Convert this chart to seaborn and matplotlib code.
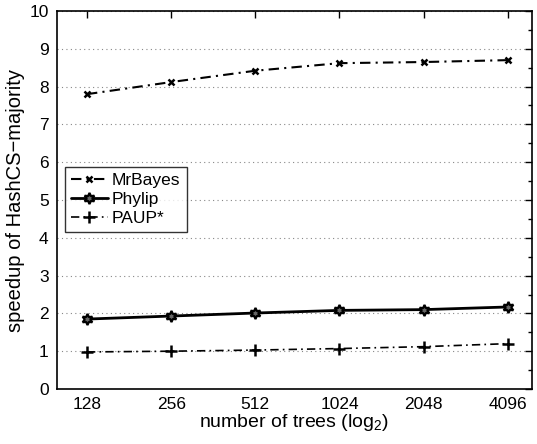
import matplotlib
matplotlib.use("Agg")
import matplotlib.pyplot as plt
import seaborn as sns
import pandas as pd
from matplotlib.ticker import FixedLocator, MultipleLocator, NullLocator

trees = [128, 256, 512, 1024, 2048, 4096]
mrbayes = [7.80, 8.12, 8.42, 8.62, 8.65, 8.70]
phylip = [1.85, 1.93, 2.01, 2.08, 2.10, 2.17]
paup = [0.98, 1.00, 1.03, 1.07, 1.12, 1.20]
series_names = ["MrBayes", "Phylip", "PAUP*"]
tick_labels = ["128", "256", "512", "1024", "2048", "4096"]

sns.set_theme(style="white")
plt.rcParams['font.family'] = ['Liberation Sans', 'DejaVu Sans']
plt.rcParams['mathtext.fontset'] = 'custom'
plt.rcParams['mathtext.rm'] = 'Liberation Sans'
plt.rcParams['mathtext.it'] = 'Liberation Sans'
plt.rcParams['text.color'] = 'black'
plt.rcParams['axes.labelcolor'] = 'black'

fig = plt.figure(figsize=(5.37, 4.44), dpi=100)
ax = fig.add_axes([57/537, 55/444, 475/537, 378/444])

dashdot = (0, (5, 2.5, 1, 2.5))
styles = {
    "MrBayes": dict(linestyle=dashdot, marker="x", markersize=5, linewidth=1.5,
                    markeredgewidth=1.8, markeredgecolor="black", color="black"),
    "Phylip": dict(linestyle="-", marker=(6, 1, 0), markersize=8, linewidth=2,
                   markeredgewidth=1.6, markerfacecolor="#666666", markeredgecolor="black", color="black"),
    "PAUP*": dict(linestyle=dashdot, marker="+", markersize=8, linewidth=1.2,
                  markeredgewidth=1.8, markeredgecolor="black", color="black"),
}
for name, vals in zip(series_names, [mrbayes, phylip, paup]):
    df = pd.DataFrame({"trees": trees, "speedup": vals})
    sns.lineplot(data=df, x="trees", y="speedup", ax=ax, label=name, **styles[name])

ax.set_xscale("log", base=2)
ax.set_xlim(100, 5000)
ax.set_ylim(0, 10)
ax.xaxis.set_major_locator(FixedLocator(trees))
ax.xaxis.set_minor_locator(NullLocator())
ax.set_xticklabels(tick_labels)
ax.yaxis.set_major_locator(MultipleLocator(1))
ax.yaxis.set_minor_locator(MultipleLocator(0.5))

ax.grid(axis="y", which="major", linestyle=(0, (1, 3)), color="#888888", linewidth=0.8)
ax.grid(axis="x", visible=False)
ax.tick_params(which="both", direction="in", top=True, right=True, colors="black",
               labelsize=12.5, pad=6)
ax.tick_params(which="major", length=5, width=1)
ax.tick_params(which="minor", length=3, width=1)
for s in ax.spines.values():
    s.set_color("black")
    s.set_linewidth(1.2)

ax.set_xlabel("number of trees (log$_2$)", fontsize=14, labelpad=0, color="black")
ax.set_ylabel("speedup of HashCS\u2212majority", fontsize=14.5, labelpad=3, color="black")

leg = ax.legend(loc="upper left", bbox_to_anchor=(0.017, 0.587), borderaxespad=0,
                fontsize=12.5, frameon=True, fancybox=False, handlelength=2.1,
                handletextpad=0.25, borderpad=0.35, labelspacing=0.2)
leg.get_frame().set_edgecolor("black")
leg.get_frame().set_linewidth(1.0)
for t in leg.get_texts():
    t.set_color("black")

fig.savefig("out.png", dpi=100)
